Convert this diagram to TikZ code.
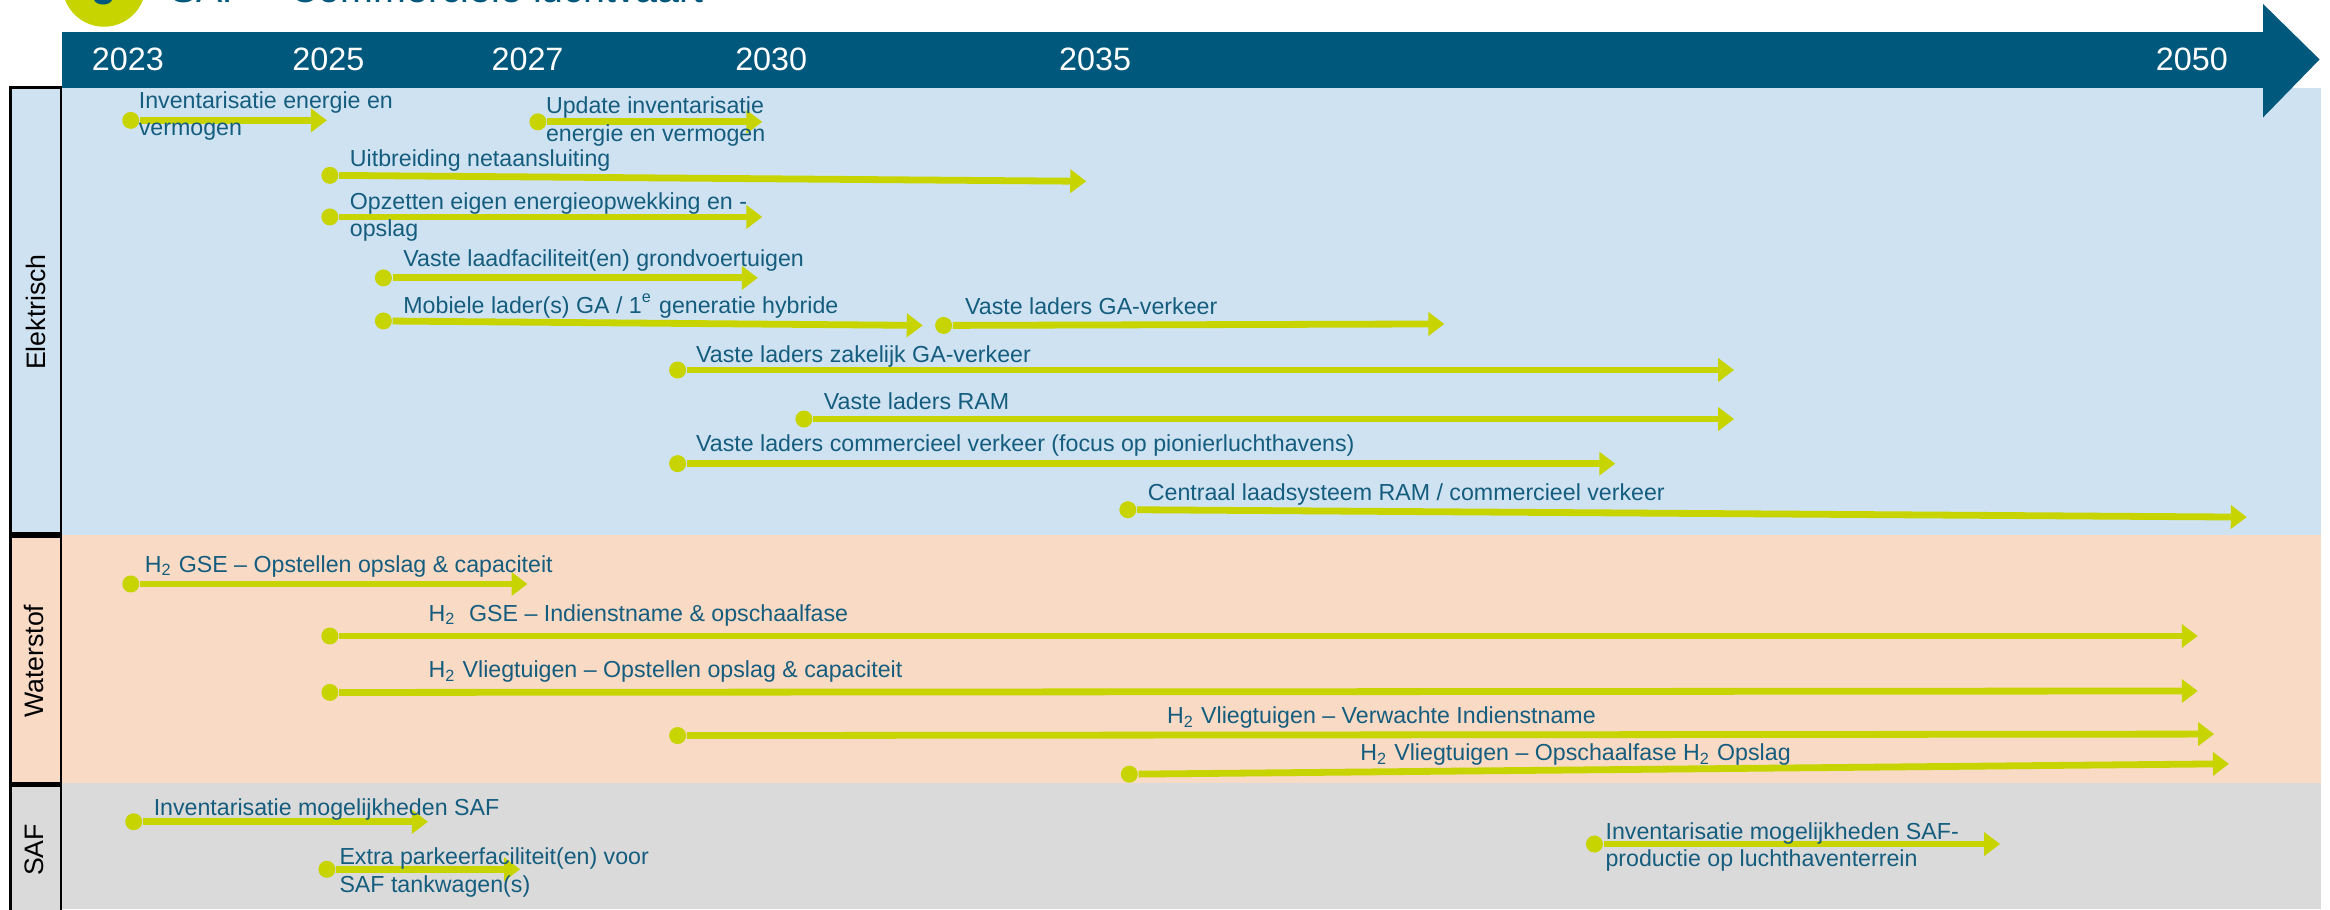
\documentclass[tikz,border=0pt]{standalone}
\usepackage{fontspec}
\setmainfont{Liberation Sans}
\usetikzlibrary{arrows.meta}
\definecolor{header}{HTML}{00587C}
\definecolor{txtblue}{HTML}{155D7E}
\definecolor{lime}{HTML}{C8D400}
\definecolor{rowblue}{HTML}{CFE2F1}
\definecolor{rowpeach}{HTML}{F9DAC5}
\definecolor{rowgrey}{HTML}{DADADA}

\begin{document}
\begin{tikzpicture}[x=0.1486mm,y=-0.1486mm,
    startdot/.style={circle,fill=lime,inner sep=0pt,minimum size=1.7mm},
    tbar/.style={draw=lime,line width=0.68mm,-{Triangle[length=1.6mm,width=2.3mm]}},
    lbl/.style={anchor=west,align=left,inner sep=0pt,text=txtblue,font=\fontsize{6.6}{7.9}\selectfont},
    yearlbl/.style={text=white,inner sep=0pt,font=\fontsize{9.2}{11}\selectfont},
    rowlbl/.style={rotate=90,inner sep=0pt,font=\fontsize{7.6}{9}\selectfont}]
    \useasboundingbox (0,0) rectangle (1568,612);
    % Title (cut off at the top)
    \begin{scope}
      \clip (0,0) rectangle (1568,612);
      \fill[lime] (70,-10) circle (28);
      \node[anchor=base,inner sep=0pt,text=header,font=\fontsize{11.4}{13}\selectfont\bfseries] (num) at (70,3) {3};
      \node[anchor=base west,inner sep=0pt,text=header,font=\fontsize{11.2}{13}\selectfont] (title) at (114,1.5) {SAF – Commerciële luchtvaart};
    \end{scope}
    % Rows
    \fill[rowblue] (42,59) rectangle (1562,360);
    \fill[rowpeach] (42,360) rectangle (1562,527);
    \fill[rowgrey] (42,527) rectangle (1562,612);
    \draw[line width=0.8pt,fill=rowblue] (7,59) rectangle (41,359);
    \draw[line width=0.8pt,fill=rowpeach] (7,361) rectangle (41,527);
    \draw[line width=0.8pt,fill=rowgrey] (7,529) rectangle (41,625);
    \node[rowlbl] (elek) at (24,210) {Elektrisch};
    \node[rowlbl] (water) at (23,445) {Waterstof};
    \node[rowlbl] (saf) at (23,572) {SAF};
    % Time axis
    \fill[header] (42,21.5) rectangle (1523,59);
    \fill[header] (1523,2.7) -- (1561,40) -- (1523,79) -- cycle;
    \node[yearlbl] (y2023) at (86,40) {2023};
    \node[yearlbl] (y2025) at (221,40) {2025};
    \node[yearlbl] (y2027) at (355,40) {2027};
    \node[yearlbl] (y2030) at (519,40) {2030};
    \node[yearlbl] (y2035) at (737,40) {2035};
    \node[yearlbl] (y2050) at (1475,40) {2050};
    % Elektrisch
    \node[startdot] (e1) at (88,81) {}; \coordinate (e1end) at (220,81);
    \draw[tbar] (e1) -- (e1end);
    \node[lbl] (e1txt) at (93,78) {Inventarisatie energie en\\vermogen};
    \node[startdot] (e2) at (362,82) {}; \coordinate (e2end) at (513,82);
    \draw[tbar] (e2) -- (e2end);
    \node[lbl] (e2txt) at (367,82) {Update inventarisatie\\energie en vermogen};
    \node[startdot] (e3) at (222,118) {}; \coordinate (e3end) at (731,122);
    \draw[tbar] (e3) -- (e3end);
    \node[lbl] (e3txt) at (235,108) {Uitbreiding netaansluiting};
    \node[startdot] (e4) at (222,146) {}; \coordinate (e4end) at (513,146);
    \draw[tbar] (e4) -- (e4end);
    \node[lbl] (e4txt) at (235,146) {Opzetten eigen energieopwekking en -\\opslag};
    \node[startdot] (e5) at (258,187) {}; \coordinate (e5end) at (510,187);
    \draw[tbar] (e5) -- (e5end);
    \node[lbl] (e5txt) at (271,175) {Vaste laadfaciliteit(en) grondvoertuigen};
    \node[startdot] (e6) at (258,216) {}; \coordinate (e6end) at (621,219);
    \draw[tbar] (e6) -- (e6end);
    \node[lbl] (e6txt) at (271,206) {Mobiele lader(s) GA / 1\textsuperscript{e} generatie hybride};
    \node[startdot] (e7) at (635,219) {}; \coordinate (e7end) at (972,218);
    \draw[tbar] (e7) -- (e7end);
    \node[lbl] (e7txt) at (649,206) {Vaste laders GA-verkeer};
    \node[startdot] (e8) at (456,249) {}; \coordinate (e8end) at (1167,249);
    \draw[tbar] (e8) -- (e8end);
    \node[lbl] (e8txt) at (468,240) {Vaste laders zakelijk GA-verkeer};
    \node[startdot] (e9) at (541,282) {}; \coordinate (e9end) at (1167,282);
    \draw[tbar] (e9) -- (e9end);
    \node[lbl] (e9txt) at (554,270) {Vaste laders RAM};
    \node[startdot] (e10) at (456,312) {}; \coordinate (e10end) at (1087,312);
    \draw[tbar] (e10) -- (e10end);
    \node[lbl] (e10txt) at (468,300) {Vaste laders commercieel verkeer (focus op pionierluchthavens)};
    \node[startdot] (e11) at (759,343) {}; \coordinate (e11end) at (1512,348);
    \draw[tbar] (e11) -- (e11end);
    \node[lbl] (e11txt) at (772,333) {Centraal laadsysteem RAM / commercieel verkeer};
    % Waterstof
    \node[startdot] (w1) at (88,393) {}; \coordinate (w1end) at (355,393);
    \draw[tbar] (w1) -- (w1end);
    \node[lbl] (w1txt) at (97,381) {H\textsubscript{2} GSE – Opstellen opslag \& capaciteit};
    \node[startdot] (w2) at (222,428) {}; \coordinate (w2end) at (1479,428);
    \draw[tbar] (w2) -- (w2end);
    \node[lbl] (w2txt) at (288,414) {H\textsubscript{2}\ \ GSE – Indienstname \& opschaalfase};
    \node[startdot] (w3) at (222,466) {}; \coordinate (w3end) at (1479,465);
    \draw[tbar] (w3) -- (w3end);
    \node[lbl] (w3txt) at (288,452) {H\textsubscript{2} Vliegtuigen – Opstellen opslag \& capaciteit};
    \node[startdot] (w4) at (456,495) {}; \coordinate (w4end) at (1490,494);
    \draw[tbar] (w4) -- (w4end);
    \node[lbl] (w4txt) at (785,483) {H\textsubscript{2} Vliegtuigen – Verwachte Indienstname};
    \node[startdot] (w5) at (760,521) {}; \coordinate (w5end) at (1500,514);
    \draw[tbar] (w5) -- (w5end);
    \node[lbl] (w5txt) at (915,508) {H\textsubscript{2} Vliegtuigen – Opschaalfase H\textsubscript{2} Opslag};
    % SAF
    \node[startdot] (s1) at (90,553) {}; \coordinate (s1end) at (288,553);
    \draw[tbar] (s1) -- (s1end);
    \node[lbl] (s1txt) at (103,545) {Inventarisatie mogelijkheden SAF};
    \node[startdot] (s2) at (220,585) {}; \coordinate (s2end) at (350,585);
    \draw[tbar] (s2) -- (s2end);
    \node[lbl] (s2txt) at (228,587) {Extra parkeerfaciliteit(en) voor\\SAF tankwagen(s)};
    \node[startdot] (s3) at (1073,568) {}; \coordinate (s3end) at (1346,568);
    \draw[tbar] (s3) -- (s3end);
    \node[lbl] (s3txt) at (1080,570) {Inventarisatie mogelijkheden SAF-\\productie op luchthaventerrein};
\end{tikzpicture}
\end{document}
